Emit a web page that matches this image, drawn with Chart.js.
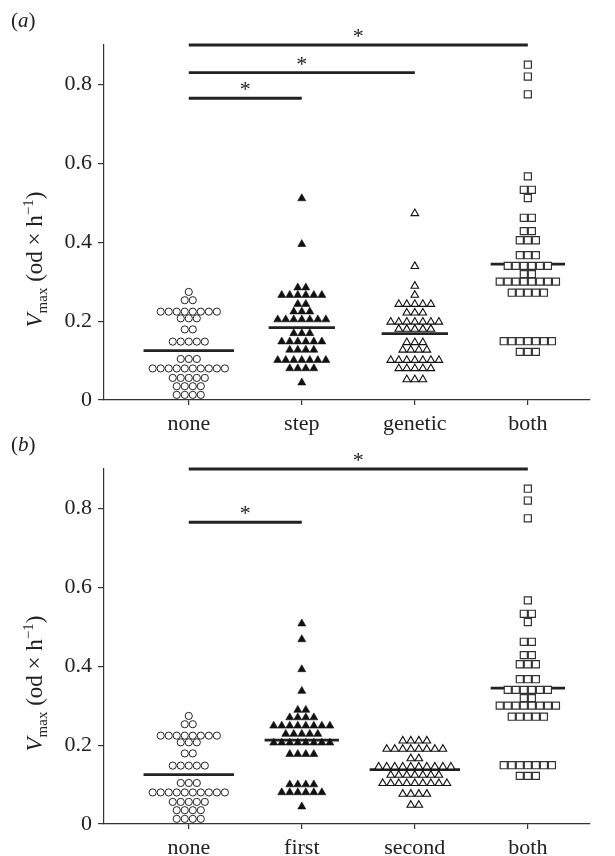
<!DOCTYPE html>
<html>
<head>
<meta charset="utf-8">
<script src="https://cdn.jsdelivr.net/npm/chart.js@4/dist/chart.umd.min.js"></script>
<style>
  html, body { margin: 0; padding: 0; background: #fff; }
  .panel { position: absolute; left: 0; width: 615px; }
  #panelA { top: 0; }
  #panelB { top: 424px; }
</style>
</head>
<body>
<div class="panel" id="panelA"><canvas id="chartA" width="615" height="445"></canvas></div>
<div class="panel" id="panelB"><canvas id="chartB" width="615" height="432"></canvas></div>
<script>
  const catsA = ["none", "step", "genetic", "both"];
  const catsB = ["none", "first", "second", "both"];
  const yTicks = [0, 0.2, 0.4, 0.6, 0.8];

  // Vmax per strain
  const noneVals = [
    0.013, 0.013, 0.013, 0.013, 0.035, 0.035, 0.035, 0.035,
    0.056, 0.056, 0.056, 0.056, 0.056,
    0.080, 0.080, 0.080, 0.080, 0.080, 0.080, 0.080, 0.080, 0.080, 0.080,
    0.104, 0.104, 0.104, 0.148, 0.148, 0.148, 0.148, 0.148,
    0.179, 0.179, 0.207, 0.207, 0.207,
    0.224, 0.224, 0.224, 0.224, 0.224, 0.224, 0.224, 0.224,
    0.253, 0.253, 0.274
  ];
  const stepVals = [
    0.044, 0.080, 0.080, 0.080, 0.080,
    0.101, 0.101, 0.101, 0.101, 0.101, 0.101, 0.101,
    0.127, 0.127, 0.127, 0.127, 0.148, 0.148, 0.148, 0.148, 0.148, 0.148,
    0.169, 0.169, 0.169, 0.204, 0.204, 0.204, 0.204, 0.204, 0.204, 0.204,
    0.224, 0.224, 0.224, 0.243, 0.243,
    0.266, 0.266, 0.266, 0.266, 0.266, 0.266, 0.285, 0.285, 0.395, 0.511
  ];
  const geneticVals = [
    0.052, 0.052, 0.052, 0.080, 0.080, 0.080, 0.080, 0.080,
    0.101, 0.101, 0.101, 0.101, 0.101, 0.101, 0.101,
    0.127, 0.127, 0.127, 0.127, 0.146, 0.146, 0.146,
    0.180, 0.180, 0.180, 0.180, 0.180,
    0.198, 0.198, 0.198, 0.198, 0.198, 0.198, 0.198,
    0.221, 0.221, 0.221, 0.243, 0.243, 0.243, 0.243, 0.243,
    0.266, 0.289, 0.339, 0.473
  ];
  const firstVals = [
    0.044, 0.080, 0.080, 0.080, 0.080, 0.080, 0.080,
    0.100, 0.100, 0.100, 0.100,
    0.177, 0.177, 0.177, 0.177,
    0.206, 0.206, 0.206, 0.206, 0.206, 0.206, 0.206, 0.206,
    0.228, 0.228, 0.228, 0.228, 0.228,
    0.249, 0.249, 0.249, 0.249, 0.249, 0.249, 0.249, 0.249,
    0.270, 0.270, 0.270, 0.270, 0.289, 0.289,
    0.337, 0.392, 0.468, 0.508
  ];
  const secondVals = [
    0.048, 0.048, 0.076, 0.076, 0.076, 0.076,
    0.103, 0.103, 0.103, 0.103, 0.103, 0.103, 0.103, 0.103, 0.103,
    0.124, 0.124, 0.124, 0.124, 0.124, 0.124, 0.124,
    0.145, 0.145, 0.145, 0.145, 0.145, 0.145, 0.145, 0.145, 0.145, 0.145,
    0.166, 0.166,
    0.190, 0.190, 0.190, 0.190, 0.190, 0.190, 0.190, 0.190,
    0.211, 0.211, 0.211, 0.211
  ];
  const bothVals = [
    0.122, 0.122, 0.122,
    0.149, 0.149, 0.149, 0.149, 0.149, 0.149, 0.149,
    0.272, 0.272, 0.272, 0.272, 0.272,
    0.300, 0.300, 0.300, 0.300, 0.300, 0.300, 0.300, 0.300,
    0.319, 0.319, 0.340, 0.340, 0.340, 0.340, 0.340, 0.340,
    0.367, 0.367, 0.367, 0.405, 0.405, 0.405,
    0.428, 0.428, 0.462, 0.462, 0.512, 0.533, 0.533, 0.567,
    0.775, 0.820, 0.850
  ];

  // significance bars: [from category, to category, level]
  const sigA = [[1, 4, 0.9], [1, 3, 0.83], [1, 2, 0.765]];
  const sigB = [[1, 4, 0.9], [1, 2, 0.765]];

  const serif = "'Liberation Serif', 'Times New Roman', serif";
  const ink = "#222";
  const STEP = 0.071;

  const marker = {
    circle: { pointStyle: "circle", pointRadius: 3.6, backgroundColor: "#fff", borderColor: ink, borderWidth: 1 },
    solidTri: { pointStyle: "triangle", pointRadius: 4.6, backgroundColor: "#111", borderColor: "#111", borderWidth: 0.6 },
    openTri: { pointStyle: "triangle", pointRadius: 4.4, backgroundColor: "#fff", borderColor: "#111", borderWidth: 1.1 },
    square: { pointStyle: "rect", pointRadius: 5, backgroundColor: "#fff", borderColor: "#333", borderWidth: 1.2 },
  };

  function swarm(values, center) {
    const counts = {};
    values.forEach((v) => (counts[v] = (counts[v] || 0) + 1));
    const seen = {};
    return values.map((v) => {
      seen[v] = seen[v] === undefined ? 0 : seen[v] + 1;
      return { x: center + (seen[v] - (counts[v] - 1) / 2) * STEP, y: v };
    });
  }

  function meanLine(values, center) {
    const counts = {};
    values.forEach((v) => (counts[v] = (counts[v] || 0) + 1));
    const widest = Math.max(...Object.values(counts));
    const hw = (widest * STEP) / 2 + 0.045;
    const m = values.reduce((a, b) => a + b, 0) / values.length;
    return {
      type: "line",
      data: [{ x: center - hw, y: m }, { x: center + hw, y: m }],
      borderColor: ink,
      borderWidth: 2.8,
      pointRadius: 0,
      order: 2,
    };
  }

  function drawTitle(ctx, x, cy) {
    const parts = [
      { t: "V", f: "italic 23px " + serif, dy: 0 },
      { t: "max", f: "15px " + serif, dy: 5 },
      { t: " (od \u00d7 h", f: "23px " + serif, dy: 0 },
      { t: "\u22121", f: "15px " + serif, dy: -9 },
      { t: ")", f: "23px " + serif, dy: 0 },
    ];
    ctx.save();
    ctx.translate(x, cy);
    ctx.rotate(-Math.PI / 2);
    ctx.fillStyle = ink;
    ctx.textBaseline = "alphabetic";
    ctx.textAlign = "left";
    let total = 0;
    parts.forEach((p) => { ctx.font = p.f; total += ctx.measureText(p.t).width; });
    let px = -total / 2;
    parts.forEach((p) => {
      ctx.font = p.f;
      ctx.fillText(p.t, px, p.dy);
      px += ctx.measureText(p.t).width;
    });
    ctx.restore();
  }

  function annotations(letter, sig) {
    return {
      id: "annot" + letter,
      afterDraw(chart) {
        const { ctx, chartArea, scales } = chart;
        // panel letter
        ctx.save();
        ctx.fillStyle = ink;
        ctx.textBaseline = "alphabetic";
        ctx.textAlign = "left";
        let x = 11;
        [["(", "21px "], [letter, "italic 21px "], [")", "21px "]].forEach(([t, f]) => {
          ctx.font = f + serif;
          ctx.fillText(t, x, 27);
          x += ctx.measureText(t).width;
        });
        // significance bars and stars
        sig.forEach(([a, b, lvl]) => {
          const x1 = scales.x.getPixelForValue(a);
          const x2 = scales.x.getPixelForValue(b);
          const y = scales.y.getPixelForValue(lvl);
          ctx.strokeStyle = ink;
          ctx.lineWidth = 2.8;
          ctx.beginPath();
          ctx.moveTo(x1, y);
          ctx.lineTo(x2, y);
          ctx.stroke();
          ctx.font = "22px " + serif;
          ctx.textAlign = "center";
          ctx.fillText("*", (x1 + x2) / 2, y - 2);
        });
        ctx.restore();
        drawTitle(ctx, 42, (chartArea.top + chartArea.bottom) / 2 + 37);
      },
    };
  }

  function makeChart(id, cats, groups, sig, letter, xHeight) {
    const datasets = [];
    groups.forEach(([vals, style], i) => {
      datasets.push({ data: swarm(vals, i + 1), showLine: false, order: 1, ...marker[style] });
      datasets.push(meanLine(vals, i + 1));
    });
    new Chart(document.getElementById(id), {
      type: "scatter",
      data: { datasets },
      options: {
        responsive: false,
        animation: false,
        layout: { padding: { left: 0, right: 25, top: 45, bottom: 0 } },
        plugins: { legend: { display: false }, tooltip: { enabled: false } },
        scales: {
          x: {
            type: "linear",
            min: 0.25,
            max: 4.55,
            afterFit: (s) => { s.height = xHeight; },
            afterBuildTicks: (s) => { s.ticks = cats.map((c, i) => ({ value: i + 1 })); },
            border: { display: true, color: "#333", width: 1.2 },
            grid: { display: true, drawOnChartArea: false, drawTicks: true, tickLength: 5, color: "#333", lineWidth: 1.2 },
            ticks: {
              autoSkip: false,
              maxRotation: 0,
              padding: 6,
              color: ink,
              font: { family: serif, size: 22 },
              callback: (v) => cats[v - 1],
            },
          },
          y: {
            type: "linear",
            min: 0,
            max: 0.9,
            afterFit: (s) => { s.width = 104; },
            afterBuildTicks: (s) => { s.ticks = yTicks.map((v) => ({ value: v })); },
            border: { display: true, color: "#333", width: 1.2 },
            grid: { display: true, drawOnChartArea: false, drawTicks: true, tickLength: 6, color: "#333", lineWidth: 1.2 },
            ticks: {
              padding: 6,
              color: ink,
              font: { family: serif, size: 22 },
              callback: (v) => (v === 0 ? "0" : v.toFixed(1)),
            },
          },
        },
      },
      plugins: [annotations(letter, sig)],
    });
  }

  makeChart("chartA", catsA,
    [[noneVals, "circle"], [stepVals, "solidTri"], [geneticVals, "openTri"], [bothVals, "square"]],
    sigA, "a", 45);
  makeChart("chartB", catsB,
    [[noneVals, "circle"], [firstVals, "solidTri"], [secondVals, "openTri"], [bothVals, "square"]],
    sigB, "b", 32);
</script>
</body>
</html>
